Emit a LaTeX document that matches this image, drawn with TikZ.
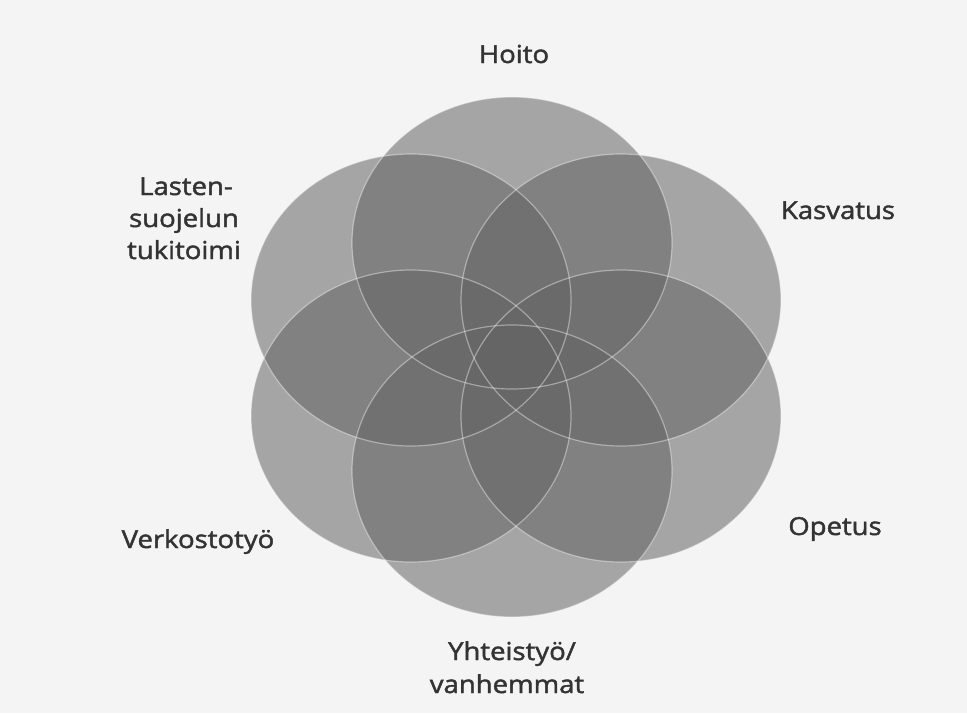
\documentclass[tikz,border=0pt]{standalone}
\usepackage{fontspec}
\setmainfont{Open Sans}
\newfontfamily\lblfont{Open Sans}[FakeBold=1.6]
\definecolor{bggray}{HTML}{F4F4F4}
\definecolor{petalgray}{HTML}{656565}
\definecolor{labelgray}{HTML}{333333}
\newcommand\sqz[1]{\scalebox{1}[0.9]{#1}}
\begin{document}
\begin{tikzpicture}[x=1pt,y=-1pt,
  petal/.style={fill=petalgray, fill opacity=0.55},
  rim/.style={draw=white, draw opacity=0.4, line width=1.2pt},
  lbl/.style={anchor=base, text=labelgray, inner sep=0pt,
    font=\lblfont\fontsize{27.5}{32}\selectfont}]
\useasboundingbox (0,0) rectangle (967,713);
\fill[bggray] (0,0) rectangle (967,713);
% circle centres
\coordinate (cT)  at (512,243);
\coordinate (cUR) at (621,300);
\coordinate (cLR) at (621,416);
\coordinate (cB)  at (512,471);
\coordinate (cLL) at (411,416);
\coordinate (cUL) at (411,300);
\foreach \c in {cT,cUR,cLR,cB,cLL,cUL}
  \fill[petal] (\c) ellipse [x radius=160pt, y radius=146pt];
\foreach \c in {cT,cUR,cLR,cB,cLL,cUL}
  \draw[rim] (\c) ellipse [x radius=160pt, y radius=146pt];
% labels
\node[lbl] (hoito) at (514,63)  {\sqz{Hoito}};
\node[lbl] (kasv)  at (838,219) {\sqz{Kasvatus}};
\node[lbl] (opet)  at (835,535) {\sqz{Opetus}};
\node[lbl] (verk)  at (198,548) {\sqz{Verkostotyö}};
\node[lbl] (yht1)  at (512,660) {\sqz{Yhteistyö/}};
\node[lbl] (yht2)  at (507,693) {\sqz{vanhemmat}};
\node[lbl] (ls1)   at (186,195) {\sqz{Lasten-}};
\node[lbl] (ls2)   at (184,227) {\sqz{suojelun}};
\node[lbl] (ls3)   at (184,259) {\sqz{tukitoimi}};
\end{tikzpicture}
\end{document}
